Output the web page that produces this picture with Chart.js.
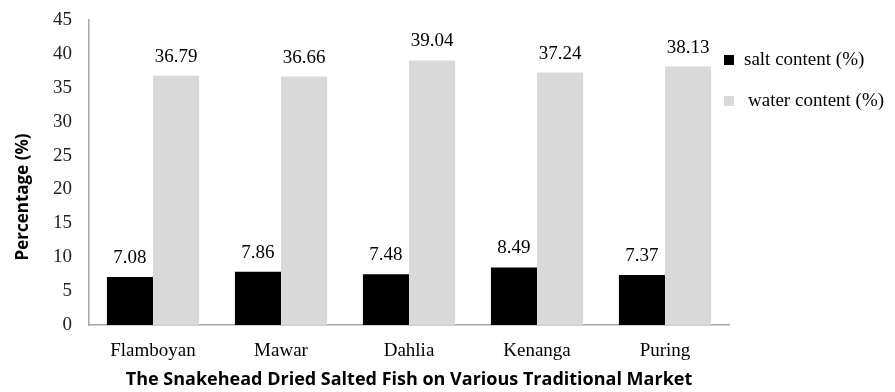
<!DOCTYPE html>
<html>
<head>
<meta charset="utf-8">
<script src="https://cdn.jsdelivr.net/npm/chart.js@4"></script>
<style>
  html, body { margin: 0; padding: 0; background: #fff; }
  #wrap { width: 895px; height: 392px; }
</style>
</head>
<body>
<div id="wrap"><canvas id="grafico"></canvas></div>
<script>
// --- Datos ---
const mercados = ['Flamboyan', 'Mawar', 'Dahlia', 'Kenanga', 'Puring'];
const salContenido = [7.08, 7.86, 7.48, 8.49, 7.37];
const aguaContenido = [36.79, 36.66, 39.04, 37.24, 38.13];
const nombresSeries = ['salt content (%)', 'water content (%)'];
const coloresSeries = ['#000000', '#d9d9d9'];
const tituloX = 'The Snakehead Dried Salted Fish on Various Traditional Market';
const tituloY = 'Percentage (%)';

// etiquetas de valor encima de cada barra
const etiquetasValor = {
    id: 'etiquetasValor',
    afterDatasetsDraw(chart) {
        const ctx = chart.ctx;
        ctx.save();
        ctx.font = '19px "Liberation Serif"';
        ctx.fillStyle = '#000';
        ctx.textAlign = 'center';
        ctx.textBaseline = 'middle';
        chart.data.datasets.forEach((ds, i) => {
            chart.getDatasetMeta(i).data.forEach((bar, j) => {
                ctx.fillText(ds.data[j].toFixed(2), bar.x, bar.y - 19);
            });
        });
        ctx.restore();
    }
};

// leyenda a la derecha y titulos de ejes, dibujados a mano
const leyendaYTitulos = {
    id: 'leyendaYTitulos',
    afterDraw(chart) {
        const ctx = chart.ctx;
        const area = chart.chartArea;
        ctx.save();
        ctx.font = '19px "Liberation Serif"';
        ctx.textBaseline = 'middle';
        nombresSeries.forEach((nombre, i) => {
            const y = 60 + i * 41;
            ctx.fillStyle = coloresSeries[i];
            ctx.fillRect(724, y - 5, 10, 10);
            ctx.fillStyle = '#000';
            ctx.fillText(nombre, 744 + i * 4, y);
        });

        ctx.textAlign = 'center';
        ctx.font = 'bold 18px "Open Sans"';
        ctx.fillText(tituloX, (area.left + area.right) / 2, 380);

        ctx.font = 'bold 17px "Open Sans"';
        ctx.translate(23, 197);
        ctx.rotate(-Math.PI / 2);
        ctx.fillText(tituloY, 0, 0);
        ctx.restore();
    }
};

const ctx = document.getElementById('grafico').getContext('2d');
new Chart(ctx, {
    type: 'bar',
    data: {
        labels: mercados,
        datasets: [
            { label: nombresSeries[0], data: salContenido, backgroundColor: coloresSeries[0] },
            { label: nombresSeries[1], data: aguaContenido, backgroundColor: coloresSeries[1] }
        ]
    },
    options: {
        responsive: true,
        maintainAspectRatio: false,
        animation: false,
        layout: { padding: { left: 0, right: 166, top: 20, bottom: 0 } },
        datasets: { bar: { categoryPercentage: 0.72, barPercentage: 1.0 } },
        plugins: { legend: { display: false }, tooltip: { enabled: false } },
        scales: {
            x: {
                grid: { display: false, drawTicks: false },
                border: { color: '#a6a6a6', width: 1.5 },
                ticks: { color: '#000', font: { family: 'Liberation Serif', size: 19 }, padding: 15 },
                afterFit(scale) { scale.height = 67; }
            },
            y: {
                min: 0, max: 45,
                grid: { display: false, drawTicks: false },
                border: { color: '#a6a6a6', width: 1.5 },
                ticks: { stepSize: 5, color: '#222', font: { family: 'Liberation Serif', size: 19 }, padding: 17 },
                afterFit(scale) {
                    scale.width = 89;
                    scale.paddingTop = 0;
                    scale.paddingBottom = 0;
                }
            }
        }
    },
    plugins: [etiquetasValor, leyendaYTitulos]
});
</script>
</body>
</html>
